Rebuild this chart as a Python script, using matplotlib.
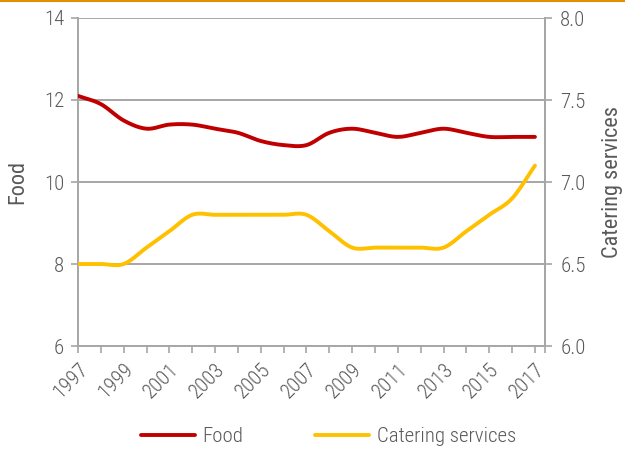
import numpy as np
import matplotlib
matplotlib.use("Agg")
import matplotlib.pyplot as plt
from matplotlib import font_manager

years = list(range(1997, 2018))
food = [12.1, 11.9, 11.5, 11.3, 11.4, 11.4, 11.3, 11.2, 11.0, 10.9, 10.9,
        11.2, 11.3, 11.2, 11.1, 11.2, 11.3, 11.2, 11.1, 11.1, 11.1]
catering = [6.5, 6.5, 6.5, 6.6, 6.7, 6.8, 6.8, 6.8, 6.8, 6.8, 6.8,
            6.7, 6.6, 6.6, 6.6, 6.6, 6.6, 6.7, 6.8, 6.9, 7.1]
xtick_labels = [str(y) for y in range(1997, 2018, 2)]

avail = {f.name for f in font_manager.fontManager.ttflist}
fam = "DejaVu Sans"
for cand in ["Roboto Condensed", "Liberation Sans Narrow", "Open Sans Condensed", "Roboto"]:
    if cand in avail:
        fam = cand
        break
plt.rcParams['font.family'] = [fam, 'DejaVu Sans']
plt.rcParams['font.weight'] = 'light'

TXT = "#595959"
GRID = "#A6A6A6"
RED = "#C00000"
YEL = "#FFC000"
FS = 15
FSL = 16


def smooth(x, y, n=20):
    # Catmull-Rom style smoothing for drawing (like Excel smoothed lines)
    x = np.asarray(x, float); y = np.asarray(y, float)
    px = np.concatenate([[2 * x[0] - x[1]], x, [2 * x[-1] - x[-2]]])
    py = np.concatenate([[2 * y[0] - y[1]], y, [2 * y[-1] - y[-2]]])
    xs, ys = [], []
    t = np.linspace(0, 1, n, endpoint=False)
    for i in range(1, len(px) - 2):
        p0, p1, p2, p3 = py[i - 1], py[i], py[i + 1], py[i + 2]
        q0, q1, q2, q3 = px[i - 1], px[i], px[i + 1], px[i + 2]
        ys.append(0.5 * ((2 * p1) + (-p0 + p2) * t + (2 * p0 - 5 * p1 + 4 * p2 - p3) * t ** 2 + (-p0 + 3 * p1 - 3 * p2 + p3) * t ** 3))
        xs.append(0.5 * ((2 * q1) + (-q0 + q2) * t + (2 * q0 - 5 * q1 + 4 * q2 - q3) * t ** 2 + (-q0 + 3 * q1 - 3 * q2 + q3) * t ** 3))
    xs.append([x[-1]]); ys.append([y[-1]])
    return np.concatenate(xs), np.concatenate(ys)


fig = plt.figure(figsize=(6.25, 4.5), dpi=100)
ax = fig.add_axes([78 / 625, 1 - 346 / 450, (545 - 78) / 625, (346 - 18) / 450])
ax2 = ax.twinx()

fx, fy = smooth(years, food)
cx, cy = smooth(years, catering)
l1, = ax.plot(fx, fy, color=RED, lw=2.8, solid_capstyle='round', label="Food", zorder=3)
l2, = ax2.plot(cx, cy, color=YEL, lw=2.8, solid_capstyle='round', label="Catering services", zorder=3)

ax.set_xlim(1997, 2017.44)
ax.set_ylim(6, 14)
ax2.set_ylim(6.0, 8.0)
ax.set_yticks([6, 8, 10, 12, 14])
ax2.set_yticks([6.0, 6.5, 7.0, 7.5, 8.0])
ax2.set_yticklabels(["6.0", "6.5", "7.0", "7.5", "8.0"])
ax.set_xticks(list(range(1997, 2018)) + [2017.44], minor=True)
ax.set_xticks(list(range(1997, 2018, 2)))
ax.set_xticklabels(xtick_labels, rotation=45, ha='right', rotation_mode='anchor')

ax.grid(axis='y', color=GRID, lw=1.4)
ax.set_axisbelow(True)
for a in (ax, ax2):
    a.spines['top'].set_visible(False)
    for s in ('left', 'right', 'bottom'):
        a.spines[s].set_color(GRID)
        a.spines[s].set_linewidth(1.4)
ax2.spines['bottom'].set_visible(False)
ax2.spines['left'].set_visible(False)

ax.tick_params(axis='y', colors=GRID, labelcolor=TXT, labelsize=FS, length=5, width=1.2, pad=5)
ax2.tick_params(axis='y', colors=GRID, labelcolor=TXT, labelsize=FS, length=5, width=1.2, pad=6)
ax.tick_params(axis='x', which='both', colors=GRID, labelcolor=TXT, labelsize=FS, length=5, width=1.2, pad=5)

ax.set_ylabel("Food", color=TXT, fontsize=FSL, labelpad=11)
ax2.set_ylabel("Catering services", color=TXT, fontsize=FSL, labelpad=12)

fig.legend(handles=[l1, l2], loc='center', bbox_to_anchor=(0.5256, 1 - 437 / 450), ncol=2,
           frameon=False, fontsize=FS, labelcolor=TXT, handlelength=2.6, columnspacing=3.45,
           handletextpad=0.35)

fig.add_artist(plt.Line2D([0, 1], [0.9985, 0.9985], color="#E09000", lw=1.5, transform=fig.transFigure))

fig.savefig("out.png", dpi=100)
